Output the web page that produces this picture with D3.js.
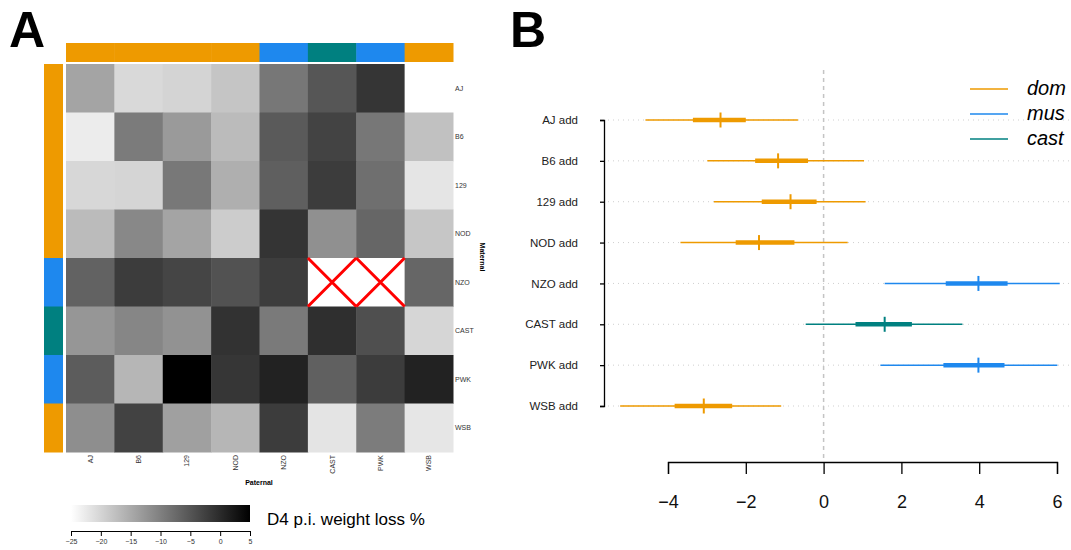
<!DOCTYPE html>
<html>
<head>
<meta charset="utf-8">
<script src="https://cdn.jsdelivr.net/npm/d3@7"></script>
<style>
	body { margin: 0; background: #fff; }
	text { font-family: 'Liberation Sans', Arial, sans-serif; }
</style>
</head>
<body>
<script>
// strains, in the order used for both rows (maternal) and columns (paternal)
const strains = ['AJ', 'B6', '129', 'NOD', 'NZO', 'CAST', 'PWK', 'WSB'];
const subspecies = ['dom', 'dom', 'dom', 'dom', 'mus', 'cast', 'mus', 'dom'];

// D4 p.i. weight loss %, rows = maternal, cols = paternal (null = missing cross)
const weightLoss = [
	[-14.3, -20.5, -19.9, -18.2, -9.0, -5.1, -1.2, -25.0],
	[-22.8, -9.5, -13.1, -17.0, -5.6, -2.9, -9.0, -17.7],
	[-20.3, -20.1, -9.1, -15.6, -6.2, -2.1, -8.1, -21.9],
	[-17.0, -11.0, -14.3, -19.0, -1.1, -11.9, -7.0, -18.3],
	[-6.5, -2.1, -3.1, -4.6, -2.2, null, null, -7.0],
	[-12.6, -10.8, -12.2, -0.9, -9.4, -0.5, -4.3, -20.2],
	[-5.8, -16.4, 5.0, -1.4, 1.0, -6.3, -2.1, 1.0],
	[-11.7, -2.8, -13.8, -16.4, -2.1, -21.8, -9.6, -22.1],
];
const legendTicks = [-25, -20, -15, -10, -5, 0, 5];

// additive effects, panel B
const effectLabels = strains.map(s => s + ' add');
const effectMid = [-2.65, -1.17, -0.85, -1.66, 3.98, 1.57, 3.98, -3.08];
const innerLo = [-3.36, -1.76, -1.59, -2.26, 3.14, 0.82, 3.08, -3.83];
const innerHi = [-2.0, -0.4, -0.18, -0.75, 4.73, 2.27, 4.65, -2.35];
const outerLo = [-4.58, -2.99, -2.82, -3.68, 1.57, -0.46, 1.46, -5.23];
const outerHi = [-0.66, 1.04, 1.08, 0.62, 6.07, 3.57, 6.01, -1.09];
const xTicks = [-4, -2, 0, 2, 4, 6];

const subColor = { dom: '#EE9A00', mus: '#1E88EE', cast: '#008080' };

const w = 1071;
const h = 550;

const svg = d3
	.select('body')
	.append('svg')
	.attr('width', w)
	.attr('height', h);

// panel letters
svg.append('text').attr('x', 9).attr('y', 47).text('A')
	.style('font-size', '50px').style('font-weight', 'bold');
svg.append('text').attr('x', 510).attr('y', 47).text('B')
	.style('font-size', '50px').style('font-weight', 'bold');

// ---------- panel A: heatmap ----------
const xBand = d3.scaleBand().domain(strains).range([66, 453]);
const yBand = d3.scaleBand().domain(strains).range([64, 452]);
const grey = d3.scaleLinear().domain([-25, 5]).range(['#ffffff', '#000000']);

const cells = [];
weightLoss.forEach((row, i) => row.forEach((v, j) => cells.push({ m: strains[i], p: strains[j], v })));

const hm = svg.append('g');
hm.selectAll('rect.cell')
	.data(cells)
	.enter()
	.append('rect')
	.attr('class', 'cell')
	.attr('x', d => xBand(d.p))
	.attr('y', d => yBand(d.m))
	.attr('width', xBand.bandwidth() + 0.5)
	.attr('height', yBand.bandwidth() + 0.5)
	.attr('fill', d => (d.v === null ? '#fff' : grey(d.v)));

// red crosses on missing crosses
const missing = cells.filter(d => d.v === null);
hm.selectAll('path.na')
	.data(missing)
	.enter()
	.append('path')
	.attr('class', 'na')
	.attr('d', d => {
		const x0 = xBand(d.p), y0 = yBand(d.m);
		const x1 = x0 + xBand.bandwidth(), y1 = y0 + yBand.bandwidth();
		return `M${x0},${y0}L${x1},${y1}M${x1},${y0}L${x0},${y1}`;
	})
	.attr('stroke', '#ff0000')
	.attr('stroke-width', 3);

// subspecies colour bars
hm.selectAll('rect.topbar')
	.data(strains)
	.enter()
	.append('rect')
	.attr('x', d => xBand(d))
	.attr('y', 43)
	.attr('width', xBand.bandwidth() + 0.5)
	.attr('height', 19)
	.attr('fill', (d, i) => subColor[subspecies[i]]);

hm.selectAll('rect.sidebar')
	.data(strains)
	.enter()
	.append('rect')
	.attr('x', 44)
	.attr('y', d => yBand(d))
	.attr('width', 19)
	.attr('height', yBand.bandwidth() + 0.5)
	.attr('fill', (d, i) => subColor[subspecies[i]]);

// row / column labels
hm.selectAll('text.rowlab')
	.data(strains)
	.enter()
	.append('text')
	.attr('x', 455)
	.attr('y', d => yBand(d) + yBand.bandwidth() / 2 + 2.5)
	.style('font-size', '7px')
	.attr('fill', '#333')
	.text(d => d);

hm.selectAll('text.collab')
	.data(strains)
	.enter()
	.append('text')
	.attr('transform', d => `translate(${xBand(d) + xBand.bandwidth() / 2 + 2.5},455) rotate(-90)`)
	.attr('text-anchor', 'end')
	.style('font-size', '7px')
	.attr('fill', '#333')
	.text(d => d);

hm.append('text').attr('x', 259).attr('y', 485).attr('text-anchor', 'middle')
	.style('font-size', '7px').style('font-weight', 'bold').text('Paternal');
hm.append('text').attr('transform', 'translate(480,257) rotate(90)').attr('text-anchor', 'middle')
	.style('font-size', '7px').style('font-weight', 'bold').text('Maternal');

// colour key
const keyScale = d3.scaleLinear().domain([-25, 5]).range([71, 250]);
const grad = svg.append('defs').append('linearGradient').attr('id', 'kg');
grad.append('stop').attr('offset', '0%').attr('stop-color', grey(-25));
grad.append('stop').attr('offset', '100%').attr('stop-color', grey(5));
svg.append('rect')
	.attr('x', keyScale(-25))
	.attr('y', 505)
	.attr('width', keyScale(5) - keyScale(-25))
	.attr('height', 17)
	.attr('fill', 'url(#kg)');

const keyAxis = svg.append('g')
	.attr('transform', 'translate(0,531)')
	.call(d3.axisBottom(keyScale).tickValues(legendTicks).tickSize(5).tickSizeOuter(5).tickPadding(3));
keyAxis.selectAll('text').style('font-size', '7px').attr('fill', '#333');
keyAxis.selectAll('line, path').attr('stroke', '#000');

svg.append('text').attr('x', 267).attr('y', 525).style('font-size', '17px').text('D4 p.i. weight loss %');

// ---------- panel B: additive effects ----------
const xScale = d3.scaleLinear().domain([-4, 6]).range([668, 1057]);
const yScale = d3.scalePoint().domain(effectLabels).range([120, 406]);

const effects = effectLabels.map((lab, i) => ({
	lab,
	sub: subspecies[i],
	mid: effectMid[i],
	ilo: innerLo[i],
	ihi: innerHi[i],
	olo: outerLo[i],
	ohi: outerHi[i],
}));

// dotted row guides
svg.selectAll('line.guide')
	.data(effectLabels)
	.enter()
	.append('line')
	.attr('x1', 608)
	.attr('x2', w)
	.attr('y1', d => yScale(d))
	.attr('y2', d => yScale(d))
	.attr('stroke', '#cfcfcf')
	.attr('stroke-width', 1)
	.attr('stroke-dasharray', '1,4');

// zero line
svg.append('line')
	.attr('x1', xScale(0)).attr('x2', xScale(0))
	.attr('y1', 70).attr('y2', 462)
	.attr('stroke', '#c4c4c4')
	.attr('stroke-width', 1.5)
	.attr('stroke-dasharray', '4,4');

const eg = svg.selectAll('g.effect')
	.data(effects)
	.enter()
	.append('g')
	.attr('class', 'effect');

eg.append('line')
	.attr('x1', d => xScale(d.olo))
	.attr('x2', d => xScale(d.ohi))
	.attr('y1', d => yScale(d.lab))
	.attr('y2', d => yScale(d.lab))
	.attr('stroke', d => subColor[d.sub])
	.attr('stroke-width', 1.5);

eg.append('line')
	.attr('x1', d => xScale(d.ilo))
	.attr('x2', d => xScale(d.ihi))
	.attr('y1', d => yScale(d.lab))
	.attr('y2', d => yScale(d.lab))
	.attr('stroke', d => subColor[d.sub])
	.attr('stroke-width', 4.5);

eg.append('line')
	.attr('x1', d => xScale(d.mid))
	.attr('x2', d => xScale(d.mid))
	.attr('y1', d => yScale(d.lab) - 7.5)
	.attr('y2', d => yScale(d.lab) + 7.5)
	.attr('stroke', d => subColor[d.sub])
	.attr('stroke-width', 2);

// axes
const yAxis = svg.append('g')
	.attr('transform', 'translate(604,0)')
	.call(d3.axisLeft(yScale).tickSize(4).tickSizeOuter(4).tickPadding(22));
yAxis.selectAll('text').style('font-size', '11.5px').attr('fill', '#222');
yAxis.selectAll('line, path').attr('stroke', '#000').attr('stroke-width', 1.3);

const xAxis = svg.append('g')
	.attr('transform', 'translate(0,462)')
	.call(d3.axisBottom(xScale).tickValues(xTicks).tickSize(12).tickSizeOuter(12).tickPadding(21));
xAxis.selectAll('text').style('font-size', '18px').attr('fill', '#111');
xAxis.selectAll('line, path').attr('stroke', '#000').attr('stroke-width', 1.3);

// legend
const legend = svg.selectAll('g.legend')
	.data(['dom', 'mus', 'cast'])
	.enter()
	.append('g')
	.attr('class', 'legend')
	.attr('transform', (d, i) => `translate(0,${89 + i * 25})`);
legend.append('line')
	.attr('x1', 970).attr('x2', 1008)
	.attr('stroke', d => subColor[d])
	.attr('stroke-width', 1.5);
legend.append('text')
	.attr('x', 1027)
	.attr('y', 6)
	.style('font-size', '20px')
	.style('font-style', 'italic')
	.text(d => d);
</script>
</body>
</html>
